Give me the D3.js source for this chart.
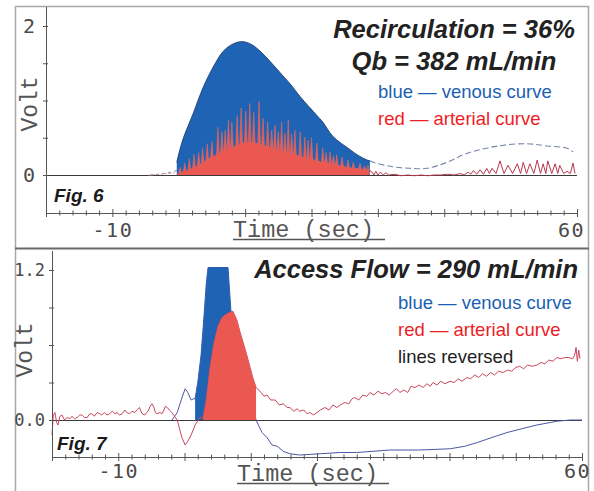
<!DOCTYPE html>
<html><head><meta charset="utf-8">
<script src="https://cdn.jsdelivr.net/npm/d3@7"></script>
<style>
html,body{margin:0;padding:0;background:#fff;}
svg{display:block;}
.mono{font-family:"DejaVu Sans Mono",monospace;}
.cour{font-family:"Liberation Mono","Courier New",monospace;}
.sans{font-family:"Liberation Sans",Arial,sans-serif;}
</style>
</head><body>
<svg id="chart" width="594" height="491"></svg>
<script>
// ---------- DATA ----------
const xDomain = [-20, 60];
const xTickValues = [-20,-18,-16,-14,-12,-10,-8,-6,-4,-2,0,2,4,6,8,10,12,14,16,18,20,22,24,26,28,30,32,34,36,38,40,42,44,46,48,50,52,54,56,58,60];
const xLabelTicks = [-10, 60];
const xMajorTicks = [-20,-10,0,10,20,30,40,50,60];

const fig6YTicks = [0, 0.5, 1, 1.5, 2];
const fig6YLabels = {"2": "2", "0": "0"};
const fig7YTicks = [0, 0.3, 0.6, 0.9, 1.2];
const fig7YLabels = {"1.2": "1.2", "0": "0.0"};

// Fig. 6 venous (blue) filled curve [time s, volt]
const fig6VenousFill = [[-0.3,0.17],[0.6,0.47],[2.2,0.83],[3.7,1.18],[5.2,1.45],[6.7,1.66],[8.2,1.76],[9.6,1.79],[11.0,1.75],[12.4,1.65],[13.8,1.52],[15.7,1.33],[16.8,1.22],[18.3,1.05],[20.8,0.80],[21.7,0.71],[23.2,0.52],[25.8,0.34],[26.9,0.27],[28.4,0.20],[28.8,0.19]];
const fig6VenousLead = [[-4.3,0.0],[-2.1,0.02],[-0.3,0.06]];
const fig6VenousTail = [[28.8,0.19],[29.3,0.17],[32.3,0.11],[34.8,0.09],[37.4,0.09],[40.4,0.17],[43.4,0.29],[46.4,0.36],[48.9,0.40],[52.5,0.42],[55.5,0.39],[58.5,0.36],[59.4,0.31]];

// Fig. 6 arterial (red) pulses: [peak time s, peak volt, base volt]
const fig6ArterialBeats = [[0.2,0.10,0.03],[0.9,0.16,0.05],[1.6,0.22,0.07],[2.3,0.28,0.10],[3.0,0.30,0.13],[3.6,0.36,0.16],[4.3,0.42,0.20],[5.0,0.45,0.24],[5.9,0.64,0.28],[6.5,0.58,0.31],[7.0,0.60,0.33],[7.5,0.74,0.35],[8.0,0.71,0.37],[8.8,0.80,0.40],[9.4,0.90,0.42],[10.1,0.86,0.44],[10.7,0.96,0.44],[11.3,0.84,0.43],[12.1,0.99,0.42],[12.7,0.76,0.40],[13.4,0.71,0.38],[14.0,0.60,0.36],[14.5,0.67,0.34],[15.0,0.58,0.33],[15.5,0.71,0.32],[16.0,0.56,0.30],[16.5,0.74,0.29],[17.0,0.55,0.28],[17.5,0.60,0.27],[18.3,0.58,0.25],[19.0,0.51,0.23],[19.5,0.47,0.22],[20.0,0.50,0.21],[20.8,0.43,0.19],[21.7,0.36,0.17],[22.2,0.30,0.16],[22.8,0.31,0.15],[23.3,0.26,0.14],[23.8,0.27,0.13],[24.6,0.24,0.12],[25.5,0.20,0.10],[26.3,0.17,0.09],[27.3,0.16,0.08],[28.0,0.12,0.07],[28.5,0.13,0.06]];
const fig6ArterialWindow = [-0.3, 28.8];
const fig6ArterialLead = [[-4.5,0.0],[-3.0,0.01],[-1.5,0.02],[-0.3,0.03]];
const fig6ArterialTail = [[28.8,0.06],[29.1,0.04],[29.4,0.0],[29.7,0.05],[30.0,0.0],[30.4,0.04],[30.8,0.0],[31.2,0.03],[31.6,0.0],[32.5,0.01],[33.5,-0.01],[34.5,0.0],[35.5,-0.01],[36.5,0.0],[37.5,-0.01],[38.5,0.0],[39.5,0.0],[40.5,0.01],[41.5,0.0],[42.4,0.02],[43.0,0.0],[43.6,0.04],[44.0,0.01],[44.4,0.06],[44.9,0.01],[45.4,0.07],[45.9,0.01],[46.4,0.09],[46.8,0.02],[47.2,0.09],[47.8,0.02],[48.4,0.19],[49.0,0.02],[49.6,0.13],[50.3,0.02],[51.0,0.15],[51.5,0.02],[51.9,0.17],[52.4,0.02],[52.9,0.15],[53.5,0.02],[54.0,0.20],[54.5,0.02],[54.9,0.15],[55.3,0.02],[55.6,0.19],[56.2,0.02],[56.7,0.15],[57.1,0.02],[57.4,0.13],[58.0,0.02],[58.5,0.05],[59.0,0.02],[59.4,0.16],[59.7,0.02]];

// Fig. 7 arterial (red) trace and its filled window
const fig7Arterial = [[-20,-0.12],[-19.8,0.04],[-19.55,0.06],[-19.3,-0.02],[-19.1,-0.04],[-18.8,0.03],[-18.5,0.04],[-18.1,0.0],[-17.7,0.02],[-17.3,0.01],[-17.0,0.03],[-16.6,0.01],[-16.2,0.02],[-15.8,0.04],[-15.5,0.04],[-15.1,0.02],[-14.7,0.02],[-14.3,0.05],[-14.0,0.05],[-13.6,0.03],[-13.2,0.06],[-12.8,0.05],[-12.5,0.04],[-12.1,0.06],[-11.7,0.04],[-11.3,0.05],[-10.9,0.07],[-10.5,0.05],[-10.2,0.06],[-9.8,0.04],[-9.4,0.05],[-9.0,0.08],[-8.7,0.06],[-8.3,0.05],[-7.9,0.07],[-7.5,0.06],[-7.2,0.08],[-6.8,0.10],[-6.4,0.05],[-6.0,0.04],[-5.7,0.06],[-5.4,0.08],[-5.2,0.11],[-4.9,0.13],[-4.6,0.10],[-4.4,0.06],[-4.15,0.05],[-3.7,0.06],[-3.4,0.05],[-3.1,0.08],[-2.9,0.11],[-2.6,0.10],[-2.3,0.08],[-1.9,0.06],[-1.5,0.03],[-1.1,0.0],[-0.7,-0.08],[-0.4,-0.14],[0.1,-0.20],[0.5,-0.17],[1.0,-0.12],[1.6,-0.04],[2.3,0.02],[2.8,0.02],[3.25,0.15],[3.85,0.42],[4.45,0.62],[5.06,0.75],[5.66,0.82],[6.4,0.85],[7.3,0.87],[7.9,0.80],[8.4,0.70],[9.4,0.52],[10.3,0.34],[10.8,0.26],[11.4,0.23],[12.0,0.19],[12.45,0.20],[13.0,0.16],[13.7,0.16],[14.3,0.12],[14.9,0.13],[15.5,0.10],[15.9,0.10],[16.5,0.07],[17.0,0.09],[17.4,0.07],[18.0,0.08],[18.5,0.05],[18.9,0.06],[19.5,0.04],[20.0,0.06],[20.5,0.08],[21.2,0.10],[21.8,0.08],[22.4,0.12],[23.0,0.10],[23.5,0.12],[24.2,0.14],[24.8,0.13],[25.3,0.17],[25.7,0.18],[26.3,0.16],[26.9,0.20],[27.5,0.19],[28.0,0.22],[28.6,0.20],[29.2,0.23],[29.8,0.21],[30.3,0.22],[30.9,0.20],[31.5,0.23],[32.0,0.25],[32.5,0.22],[33.1,0.24],[33.7,0.22],[34.2,0.27],[34.8,0.26],[35.4,0.28],[36.0,0.26],[36.6,0.29],[37.1,0.27],[37.5,0.30],[38.1,0.28],[38.7,0.31],[39.3,0.29],[40.1,0.31],[40.7,0.30],[41.3,0.33],[41.9,0.31],[42.6,0.34],[43.2,0.33],[43.8,0.36],[44.4,0.34],[45.0,0.37],[45.6,0.35],[46.2,0.38],[46.8,0.36],[47.4,0.39],[48.1,0.38],[48.8,0.40],[49.4,0.39],[50.0,0.42],[50.6,0.43],[51.2,0.41],[51.8,0.44],[52.5,0.43],[53.2,0.44],[53.8,0.46],[54.4,0.45],[55.0,0.48],[55.6,0.47],[56.2,0.50],[56.8,0.49],[57.4,0.50],[58.0,0.50],[58.6,0.49],[58.9,0.52],[59.1,0.58],[59.3,0.47],[59.5,0.56],[59.7,0.49]];
const fig7ArterialFillRange = [2.8, 10.8];

// Fig. 7 venous (blue) trace and its filled window
const fig7Venous = [[-1.9,0.0],[-1.5,0.03],[-1.1,0.06],[-0.5,0.16],[0.1,0.25],[0.5,0.22],[1.0,0.16],[1.4,0.17],[1.6,0.17],[2.0,0.30],[2.5,0.52],[2.9,0.80],[3.3,1.10],[3.55,1.22],[6.57,1.22],[7.0,0.88],[7.4,0.70],[8.5,0.50],[9.5,0.30],[10.8,0.0],[11.7,-0.10],[12.45,-0.14],[13.2,-0.20],[14.0,-0.21],[14.9,-0.25],[15.9,-0.27],[17.4,-0.28],[20.5,-0.27],[23.5,-0.26],[26.0,-0.26],[31.0,-0.24],[35.5,-0.24],[40.1,-0.23],[42.3,-0.21],[44.2,-0.18],[46.4,-0.14],[48.7,-0.10],[50.9,-0.07],[53.2,-0.04],[55.2,-0.02],[56.2,-0.01],[58.2,0.0],[60,0.0]];
const fig7VenousFillRange = [1.6, 10.8];

const fig6Title = ["Recirculation = 36%", "Qb = 382 mL/min"];
const fig7Title = ["Access Flow = 290 mL/min"];
const fig6Legend = [["blue — venous curve", "#1b5fb2"], ["red — arterial curve", "#ee1d25"]];
const fig7Legend = [["blue — venous curve", "#1b5fb2"], ["red — arterial curve", "#ee1d25"], ["lines reversed", "#222"]];

// ---------- DRAW ----------
const svg = d3.select("#chart");
svg.append("rect").attr("width",594).attr("height",491).attr("fill","#fff");

svg.append("path").attr("d","M15.5,491V6.5H588.5V491").attr("fill","none").attr("stroke","#a8a8a8").attr("stroke-width",1.5);
svg.append("line").attr("x1",15).attr("x2",589).attr("y1",248.5).attr("y2",248.5).attr("stroke","#6a6a6a").attr("stroke-width",2);

const BLUE_FILL = "#1f63b4", RED_FILL = "#ea5851";
const SPIKE_HALF_WIDTH = 0.2;

function panel(cfg) {
  const x = d3.scaleLinear(xDomain, cfg.xRange);
  const y = d3.scaleLinear(cfg.yDomain, cfg.yRange);
  const g = svg.append("g");

  g.append("line").attr("x1", x(-20)).attr("x2", x(60)).attr("y1", y(0)+0.5).attr("y2", y(0)+0.5)
    .attr("stroke","#3a3a3a").attr("stroke-width",1.1);

  cfg.draw(g, x, y);

  const xa = g.append("g").attr("transform", `translate(0,${cfg.xAxisY})`)
    .call(d3.axisBottom(x).tickValues(xTickValues).tickSizeOuter(0).tickSize(3)
      .tickFormat(d => xLabelTicks.includes(d) ? String(d) : ""));
  xa.select(".domain").attr("stroke","#555");
  xa.selectAll(".tick line").attr("stroke","#555")
    .attr("y1", d => xMajorTicks.includes(d) ? -4 : -2.5)
    .attr("y2", d => xMajorTicks.includes(d) ? 4 : 2.5);
  xa.selectAll(".tick text").attr("class","mono").attr("fill","#4a4a4a")
    .style("font-size", cfg.xFont + "px").style("letter-spacing","1.5px")
    .attr("y", cfg.xLabelDy).attr("dy", 0)
    .attr("dx", d => d === 60 ? cfg.sixtyDx : 0);

  const ya = g.append("g").attr("transform", `translate(${cfg.xRange[0]},0)`)
    .call(d3.axisLeft(y).tickValues(cfg.yTicks).tickSize(3).tickPadding(cfg.yPad)
      .tickFormat(d => cfg.yLabels[String(d)] || ""));
  ya.select(".domain").remove();
  ya.selectAll(".tick line").attr("stroke","#555").attr("x1", 2);
  ya.selectAll(".tick text").attr("class","mono").attr("fill","#4a4a4a")
    .style("font-size", cfg.yFont + "px");
  g.append("line").attr("x1", cfg.xRange[0]+0.5).attr("x2", cfg.xRange[0]+0.5)
    .attr("y1", cfg.yAxisTop).attr("y2", cfg.xAxisY+0.5).attr("stroke","#555");

  g.append("text").attr("class","cour").attr("fill","#555").style("font-size","23px")
    .attr("transform", `translate(${cfg.voltX},${cfg.voltY}) rotate(-90)`)
    .attr("text-anchor","middle").text("Volt");
  g.append("text").attr("class","cour").attr("fill","#555").style("font-size","23.5px")
    .attr("x", cfg.timeX).attr("y", cfg.timeY).text("Time (sec)");
  g.append("line").attr("x1", cfg.timeX).attr("x2", cfg.timeX + 152)
    .attr("y1", cfg.timeY + 2.5).attr("y2", cfg.timeY + 2.5).attr("stroke","#555").attr("stroke-width",1.3);

  g.append("text").attr("class","sans").attr("fill","#1a1a1a")
    .style("font-size", "19px").style("font-weight","bold").style("font-style","italic")
    .attr("x", cfg.figX).attr("y", cfg.figY).text(cfg.figText);

  cfg.titles.forEach((t, i) => {
    g.append("text").attr("class","sans").attr("fill","#222")
      .style("font-size","25.5px").style("font-weight","bold").style("font-style","italic")
      .attr("text-anchor", cfg.titleAnchor).attr("x", cfg.titleX).attr("y", cfg.titleY + i*31.5).text(t);
  });
  cfg.legend.forEach((l, i) => {
    g.append("text").attr("class","sans").attr("fill", l[1]).style("font-size","18.5px")
      .attr("x", cfg.legendX).attr("y", cfg.legendY + i*26.8).text(l[0]);
  });
}

// ---- Fig. 6 ----
panel({
  xRange: [46, 577], yDomain: [0, 2], yRange: [175, 26],
  xAxisY: 213, yAxisTop: 7, xFont: 20, xLabelDy: 24, sixtyDx: -6,
  yTicks: fig6YTicks, yLabels: fig6YLabels, yFont: 20, yPad: 8,
  voltX: 37, voltY: 104, timeX: 233, timeY: 237,
  figX: 54, figY: 202, figText: "Fig. 6",
  titles: fig6Title, titleAnchor: "middle", titleX: 454, titleY: 38,
  legend: fig6Legend, legendX: 378, legendY: 98,
  draw: (g, x, y) => {
    const line = d3.line().x(d => x(d[0])).y(d => y(d[1]));
    const smooth = d3.line().curve(d3.curveCatmullRom).x(d => x(d[0])).y(d => y(d[1]));
    const area = d3.area().curve(d3.curveCatmullRom).x(d => x(d[0])).y0(y(0)).y1(d => y(d[1]));

    g.append("path").attr("d", smooth(fig6VenousLead))
      .attr("fill","none").attr("stroke","#7d8aa6").attr("stroke-width",1).attr("stroke-dasharray","3,3");
    g.append("path").attr("d", line(fig6ArterialLead))
      .attr("fill","none").attr("stroke","#e7a0a0").attr("stroke-width",1).attr("stroke-dasharray","2,2");

    g.append("path").attr("d", area(fig6VenousFill)).attr("fill", BLUE_FILL);
    g.append("path").attr("d", smooth(fig6VenousFill))
      .attr("fill","none").attr("stroke","#23457e").attr("stroke-width",1);

    // arterial pulses: narrow spikes standing on a solid base
    const pts = [[fig6ArterialWindow[0], 0]];
    fig6ArterialBeats.forEach(b => {
      pts.push([b[0] - SPIKE_HALF_WIDTH, b[2]], [b[0], b[1]], [b[0] + SPIKE_HALF_WIDTH, b[2]]);
    });
    pts.push([fig6ArterialWindow[1], 0]);
    g.append("path").attr("d", d3.area().x(d => x(d[0])).y0(y(0)).y1(d => y(d[1]))(pts))
      .attr("fill", RED_FILL);
    g.append("path").attr("d", line(pts.slice(1, -1)))
      .attr("fill","none").attr("stroke","#e46a62").attr("stroke-width",0.6);

    g.append("path").attr("d", smooth(fig6VenousTail))
      .attr("fill","none").attr("stroke","#7585a6").attr("stroke-width",1.1).attr("stroke-dasharray","6,3");
    g.append("path").attr("d", line(fig6ArterialTail))
      .attr("fill","none").attr("stroke","#b8364f").attr("stroke-width",1);
  }
});

// ---- Fig. 7 ----
panel({
  xRange: [52, 582], yDomain: [0, 1.2], yRange: [420, 270],
  xAxisY: 457, yAxisTop: 251, xFont: 20, xLabelDy: 21, sixtyDx: -5,
  yTicks: fig7YTicks, yLabels: fig7YLabels, yFont: 17, yPad: 4,
  voltX: 32, voltY: 350, timeX: 237, timeY: 481,
  figX: 57, figY: 450, figText: "Fig. 7",
  titles: fig7Title, titleAnchor: "end", titleX: 578, titleY: 278,
  legend: fig7Legend, legendX: 398, legendY: 309,
  draw: (g, x, y) => {
    const area = d3.area().x(d => x(d[0])).y0(y(0)).y1(d => y(d[1]));
    const line = d3.line().x(d => x(d[0])).y(d => y(d[1]));
    const vFill = fig7Venous.filter(d => d[0] >= fig7VenousFillRange[0] && d[0] <= fig7VenousFillRange[1]);
    const aFill = fig7Arterial.filter(d => d[0] >= fig7ArterialFillRange[0] && d[0] <= fig7ArterialFillRange[1]);
    g.append("path").attr("d", line(fig7Venous)).attr("fill","none").attr("stroke","#4b57a6").attr("stroke-width",1);
    g.append("path").attr("d", area(vFill)).attr("fill", BLUE_FILL);
    g.append("path").attr("d", line(fig7Arterial)).attr("fill","none").attr("stroke","#c8475e").attr("stroke-width",1);
    g.append("path").attr("d", area(aFill)).attr("fill", RED_FILL);
  }
});
</script>
</body></html>
